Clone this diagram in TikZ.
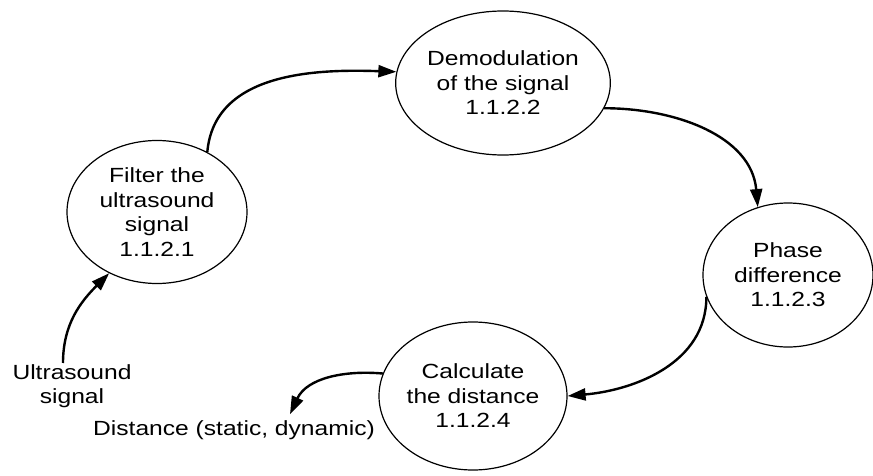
\documentclass[tikz,border=0pt]{standalone}
\usepackage{fontspec}
\setmainfont[FakeStretch=1.2]{Liberation Sans}
\usepackage{tikz}
\usetikzlibrary{shapes, arrows.meta, positioning}
\tikzset{
	proc_bubble/.style={ellipse, draw=black, line width=1.2pt, fill=white, inner sep=0pt, align=center, font=\fontsize{20.5}{24.5}\selectfont},
	ext_label/.style={inner sep=1pt, align=center, font=\fontsize{20.5}{24.5}\selectfont},
	flow_arrow/.style={-{Triangle[length=18pt,width=12pt]}, draw=black, line width=2.4pt}
}

\begin{document}
\begin{tikzpicture}[x=1pt, y=1pt]
	\useasboundingbox (0,0) rectangle (873,475);
	\node[proc_bubble, minimum width=180pt, minimum height=143pt] (p1) at (157,263) {Filter the\\ultrasound\\signal\\1.1.2.1};
	\node[proc_bubble, minimum width=193pt, minimum height=144pt] (p2) at (503,392) {Demodulation\\of the signal\\1.1.2.2};
	\node[proc_bubble, minimum width=170pt, minimum height=144pt] (p3) at (788,200) {Phase\\difference\\1.1.2.3};
	\node[proc_bubble, minimum width=188pt, minimum height=148pt] (p4) at (473,79) {Calculate\\the distance\\1.1.2.4};
	\node[ext_label] (us) at (72,89) {Ultrasound\\signal};
	\node[ext_label] (dist) at (234,45) {Distance (static, dynamic)};
	% flow round the cycle
	\draw[flow_arrow] ([xshift=-9pt]us.north) to[out=90, in=225] (p1.232);
	\draw[flow_arrow] (p1.50) to[out=85, in=178] (p2.174);
	\draw[flow_arrow] (p2.-14) to[out=0, in=95] (p3.114);
	\draw[flow_arrow] (p3.195) to[out=-90, in=5] (p4.0);
	\draw[flow_arrow] (p4.166) to[out=175, in=65] ([xshift=56pt,yshift=5pt]dist.north);
\end{tikzpicture}
\end{document}
